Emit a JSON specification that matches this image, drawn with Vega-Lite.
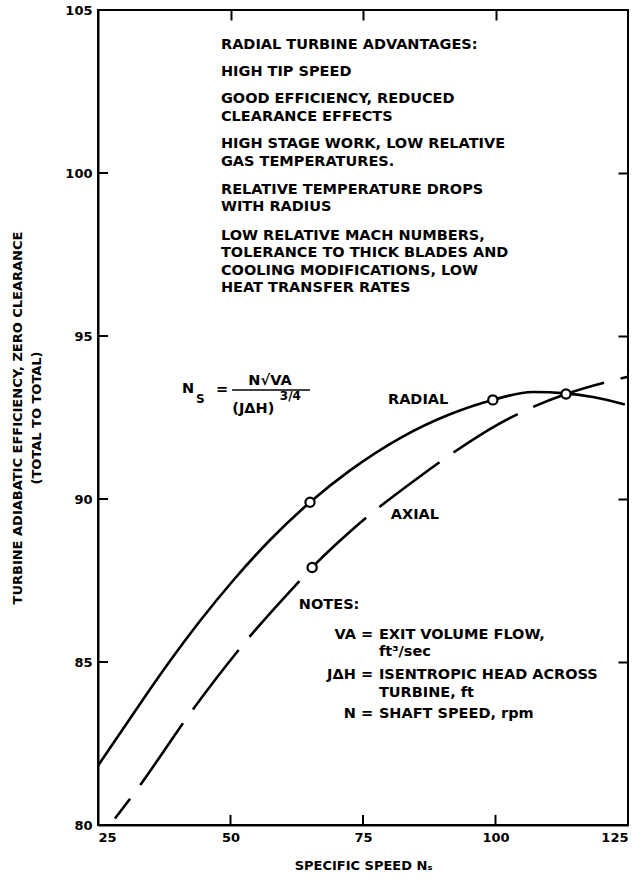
{
  "$schema": "https://vega.github.io/schema/vega-lite/v6.json",
  "width": 530,
  "height": 815,
  "autosize": {"type": "none"},
  "padding": {"left": 98, "top": 10, "right": 5, "bottom": 58},
  "background": "white",
  "config": {
    "font": "DejaVu Sans",
    "view": {"stroke": "black", "strokeWidth": 2},
    "axis": {
      "grid": false,
      "domainColor": "black",
      "domainWidth": 2,
      "tickColor": "black",
      "tickWidth": 2,
      "tickSize": -10,
      "labelFont": "DejaVu Sans",
      "labelFontWeight": "bold",
      "labelFontSize": 13,
      "labelColor": "black",
      "titleFont": "DejaVu Sans",
      "titleFontWeight": "bold",
      "titleFontSize": 13,
      "titleColor": "black"
    },
    "text": {"font": "DejaVu Sans", "fontWeight": "bold", "color": "black"}
  },
  "resolve": {"axis": {"x": "independent", "y": "independent"}},
  "datasets": {
    "curves": [
      {"series": "RADIAL", "ns": 25, "eff": 81.82},
      {"series": "RADIAL", "ns": 31.6, "eff": 83.4},
      {"series": "RADIAL", "ns": 38, "eff": 84.9},
      {"series": "RADIAL", "ns": 44.2, "eff": 86.25},
      {"series": "RADIAL", "ns": 50.5, "eff": 87.5},
      {"series": "RADIAL", "ns": 57.5, "eff": 88.75},
      {"series": "RADIAL", "ns": 65, "eff": 89.9},
      {"series": "RADIAL", "ns": 72.5, "eff": 90.87},
      {"series": "RADIAL", "ns": 82, "eff": 91.87},
      {"series": "RADIAL", "ns": 91.4, "eff": 92.6},
      {"series": "RADIAL", "ns": 99.5, "eff": 93.04},
      {"series": "RADIAL", "ns": 107, "eff": 93.28},
      {"series": "RADIAL", "ns": 113.3, "eff": 93.24},
      {"series": "RADIAL", "ns": 118.4, "eff": 93.13},
      {"series": "RADIAL", "ns": 124.4, "eff": 92.9},
      {"series": "AXIAL", "ns": 28.2, "eff": 80.2},
      {"series": "AXIAL", "ns": 32.4, "eff": 81.1},
      {"series": "AXIAL", "ns": 42.7, "eff": 83.5},
      {"series": "AXIAL", "ns": 52.2, "eff": 85.5},
      {"series": "AXIAL", "ns": 63.1, "eff": 87.5},
      {"series": "AXIAL", "ns": 65.4, "eff": 87.9},
      {"series": "AXIAL", "ns": 72.9, "eff": 89.05},
      {"series": "AXIAL", "ns": 85.8, "eff": 90.7},
      {"series": "AXIAL", "ns": 96.5, "eff": 91.9},
      {"series": "AXIAL", "ns": 99.5, "eff": 92.2},
      {"series": "AXIAL", "ns": 106.5, "eff": 92.78},
      {"series": "AXIAL", "ns": 113.3, "eff": 93.22},
      {"series": "AXIAL", "ns": 125, "eff": 93.75}
    ],
    "points": [
      {"ns": 65, "eff": 89.9},
      {"ns": 65.4, "eff": 87.9},
      {"ns": 99.5, "eff": 93.04},
      {"ns": 113.3, "eff": 93.22}
    ],
    "innerTicks": [
      {"ns": 50, "ns2": 50, "eff": 80, "eff2": 80.31},
      {"ns": 75, "ns2": 75, "eff": 80, "eff2": 80.31},
      {"ns": 100, "ns2": 100, "eff": 80, "eff2": 80.31},
      {"ns": 25, "ns2": 26.9, "eff": 85, "eff2": 85},
      {"ns": 25, "ns2": 26.9, "eff": 90, "eff2": 90},
      {"ns": 25, "ns2": 26.9, "eff": 95, "eff2": 95},
      {"ns": 25, "ns2": 26.9, "eff": 100, "eff2": 100}
    ],
    "leftText": [
      {"ns": 48.2, "eff": 103.93, "t": "RADIAL TURBINE ADVANTAGES:"},
      {"ns": 48.2, "eff": 103.11, "t": "HIGH TIP SPEED"},
      {"ns": 48.2, "eff": 102.26, "t": "GOOD EFFICIENCY, REDUCED"},
      {"ns": 48.2, "eff": 101.73, "t": "CLEARANCE EFFECTS"},
      {"ns": 48.2, "eff": 100.88, "t": "HIGH STAGE WORK, LOW RELATIVE"},
      {"ns": 48.2, "eff": 100.35, "t": "GAS TEMPERATURES."},
      {"ns": 48.2, "eff": 99.48, "t": "RELATIVE TEMPERATURE DROPS"},
      {"ns": 48.2, "eff": 98.97, "t": "WITH RADIUS"},
      {"ns": 48.2, "eff": 98.07, "t": "LOW RELATIVE MACH NUMBERS,"},
      {"ns": 48.2, "eff": 97.54, "t": "TOLERANCE TO THICK BLADES AND"},
      {"ns": 48.2, "eff": 96.99, "t": "COOLING MODIFICATIONS, LOW"},
      {"ns": 48.2, "eff": 96.46, "t": "HEAT TRANSFER RATES"},
      {"ns": 62.9, "eff": 86.75, "t": "NOTES:"},
      {"ns": 78.0, "eff": 85.83, "t": "EXIT VOLUME FLOW,"},
      {"ns": 78.0, "eff": 85.31, "t": "ft³/sec"},
      {"ns": 78.0, "eff": 84.6, "t": "ISENTROPIC HEAD ACROSS"},
      {"ns": 78.0, "eff": 84.05, "t": "TURBINE, ft"},
      {"ns": 78.0, "eff": 83.4, "t": "SHAFT SPEED, rpm"},
      {"ns": 40.85, "eff": 93.37, "t": "N"},
      {"ns": 47.26, "eff": 93.34, "t": "="}
    ],
    "rightText": [
      {"ns": 76.9, "eff": 85.83, "t": "VA ="},
      {"ns": 76.9, "eff": 84.6, "t": "JΔH ="},
      {"ns": 76.9, "eff": 83.4, "t": "N ="}
    ],
    "centerText": [
      {"ns": 85.4, "eff": 93.04, "t": "RADIAL"},
      {"ns": 84.8, "eff": 89.51, "t": "AXIAL"},
      {"ns": 57.45, "eff": 93.62, "t": "N√VA"},
      {"ns": 54.3, "eff": 92.76, "t": "(JΔH)"}
    ],
    "smallText": [
      {"ns": 43.5, "eff": 93.08, "t": "S"},
      {"ns": 59.3, "eff": 93.15, "t": "3/4"}
    ],
    "bar": [
      {"ns": 50.3, "ns2": 65.0, "eff": 93.34}
    ]
  },
  "layer": [
    {
      "data": {"name": "curves"},
      "transform": [{"filter": "datum.series === 'RADIAL'"}],
      "mark": {"type": "line", "color": "black", "strokeWidth": 2.6, "interpolate": "monotone"},
      "encoding": {
        "x": {"field": "ns", "type": "quantitative",
              "scale": {"domain": [25, 125], "nice": false, "zero": false},
              "axis": {"values": [25, 50, 75, 100, 125], "ticks": false, "title": "SPECIFIC SPEED Nₛ", "labelPadding": 6, "titlePadding": 15}},
        "y": {"field": "eff", "type": "quantitative",
              "scale": {"domain": [80, 105], "nice": false, "zero": false},
              "axis": {"values": [80, 85, 90, 95, 100, 105], "ticks": false, "labelPadding": 6, "titlePadding": 21, "titleLineHeight": 19,
                       "title": ["TURBINE ADIABATIC EFFICIENCY, ZERO CLEARANCE", "(TOTAL TO TOTAL)"]}}
      }
    },
    {
      "data": {"name": "curves"},
      "transform": [{"filter": "datum.series === 'AXIAL'"}],
      "mark": {"type": "line", "color": "black", "strokeWidth": 2.6, "interpolate": "monotone", "strokeDash": [75, 17], "strokeDashOffset": 50},
      "encoding": {
        "x": {"field": "ns", "type": "quantitative", "axis": {"orient": "top", "values": [50, 75, 100], "labels": false, "title": null, "domain": false}},
        "y": {"field": "eff", "type": "quantitative", "axis": {"orient": "right", "values": [85, 90, 95, 100], "labels": false, "title": null, "domain": false}}
      }
    },
    {
      "data": {"name": "innerTicks"},
      "mark": {"type": "rule", "color": "black", "strokeWidth": 2},
      "encoding": {
        "x": {"field": "ns", "type": "quantitative", "axis": null},
        "x2": {"field": "ns2"},
        "y": {"field": "eff", "type": "quantitative", "axis": null},
        "y2": {"field": "eff2"}
      }
    },
    {
      "data": {"name": "points"},
      "mark": {"type": "point", "shape": "circle", "filled": true, "fill": "white", "stroke": "black", "strokeWidth": 2.2, "size": 85, "opacity": 1},
      "encoding": {
        "x": {"field": "ns", "type": "quantitative", "axis": null},
        "y": {"field": "eff", "type": "quantitative", "axis": null}
      }
    },
    {
      "data": {"name": "leftText"},
      "mark": {"type": "text", "align": "left", "baseline": "middle", "fontSize": 14.5},
      "encoding": {
        "x": {"field": "ns", "type": "quantitative", "axis": null},
        "y": {"field": "eff", "type": "quantitative", "axis": null},
        "text": {"field": "t"}
      }
    },
    {
      "data": {"name": "rightText"},
      "mark": {"type": "text", "align": "right", "baseline": "middle", "fontSize": 14.5},
      "encoding": {
        "x": {"field": "ns", "type": "quantitative", "axis": null},
        "y": {"field": "eff", "type": "quantitative", "axis": null},
        "text": {"field": "t"}
      }
    },
    {
      "data": {"name": "centerText"},
      "mark": {"type": "text", "align": "center", "baseline": "middle", "fontSize": 14.5},
      "encoding": {
        "x": {"field": "ns", "type": "quantitative", "axis": null},
        "y": {"field": "eff", "type": "quantitative", "axis": null},
        "text": {"field": "t"}
      }
    },
    {
      "data": {"name": "smallText"},
      "mark": {"type": "text", "align": "left", "baseline": "middle", "fontSize": 12},
      "encoding": {
        "x": {"field": "ns", "type": "quantitative", "axis": null},
        "y": {"field": "eff", "type": "quantitative", "axis": null},
        "text": {"field": "t"}
      }
    },
    {
      "data": {"name": "bar"},
      "mark": {"type": "rule", "color": "black", "strokeWidth": 1.5},
      "encoding": {
        "x": {"field": "ns", "type": "quantitative", "axis": null},
        "x2": {"field": "ns2"},
        "y": {"field": "eff", "type": "quantitative", "axis": null}
      }
    }
  ]
}
